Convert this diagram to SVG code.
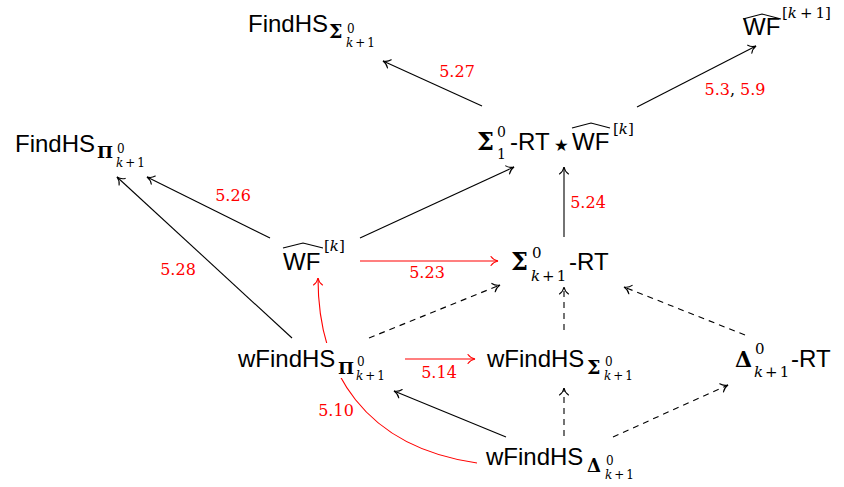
<svg xmlns="http://www.w3.org/2000/svg" width="844" height="487" viewBox="0 0 844 487">
<defs>
<marker id="ah" markerUnits="userSpaceOnUse" markerWidth="12" markerHeight="12" viewBox="-9 -6 12 12" refX="0" refY="0" orient="auto">
<path d="M-7,-4.5 C-5,-1.5 -2,-0.4 0,0 C-2,0.4 -5,1.5 -7,4.5" fill="none" stroke="#000" stroke-width="1.1" stroke-linecap="round"/>
</marker>
<marker id="ahr" markerUnits="userSpaceOnUse" markerWidth="12" markerHeight="12" viewBox="-9 -6 12 12" refX="0" refY="0" orient="auto">
<path d="M-7,-4.5 C-5,-1.5 -2,-0.4 0,0 C-2,0.4 -5,1.5 -7,4.5" fill="none" stroke="#f00" stroke-width="1.1" stroke-linecap="round"/>
</marker>
</defs>
<style>
.e{fill:none;stroke:#000;stroke-width:1.1;marker-end:url(#ah)}
.d{stroke-dasharray:6 5}
.r{fill:none;stroke:#f00;stroke-width:1.1;marker-end:url(#ahr)}
.lb{font-family:"DejaVu Serif",serif;font-size:16px;fill:#f00;text-anchor:middle}
.t{font-family:"Liberation Sans",sans-serif;font-size:24px;fill:#000}
.g{font-family:"DejaVu Serif",serif;font-weight:bold;fill:#000}
.m{font-family:"DejaVu Serif",serif;fill:#000}
.i{font-style:italic}
.hat{fill:none;stroke:#000;stroke-width:1.2}
</style>
<rect width="844" height="487" fill="#fff"/>
<g id="connectors">
<path class="e" d="M482,106 L383,61"/>
<path class="e" d="M637,107 L756,46"/>
<path class="e" d="M270,238 L147,177"/>
<path class="e" d="M292,338 L117,177"/>
<path class="e" d="M360,238 L514,167"/>
<path class="e" d="M564,237 L564,167"/>
<path class="r" d="M360,261 L498,261"/>
<path class="e d" d="M369,338 L500,285"/>
<path class="e d" d="M564,330 L564,287"/>
<path class="e d" d="M745,335 L624,287"/>
<path class="r" d="M405,359 L475,359"/>
<path class="e" d="M506,437 L394,391"/>
<path class="e d" d="M564,436 L564,388"/>
<path class="e d" d="M613,437 L728,385"/>
<path class="r" d="M477,463 C365,447 318,372 318,278"/>
<text class="lb" x="457" y="77">5.27</text>
<text class="lb" x="735" y="95"><tspan>5.3</tspan><tspan fill="#000">, </tspan><tspan>5.9</tspan></text>
<text class="lb" x="233" y="201">5.26</text>
<text class="lb" x="178" y="275">5.28</text>
<text class="lb" x="588" y="208">5.24</text>
<text class="lb" x="427" y="278">5.23</text>
<text class="lb" x="439" y="378">5.14</text>
<text class="lb" x="336" y="416">5.10</text>
</g>
<g id="findhs-sigma">
<text class="t" x="248" y="32">FindHS</text>
<text class="g" x="329" y="38" font-size="19">Σ</text>
<text class="m" x="347" y="33" font-size="12">0</text>
<text class="m" x="346" y="47" font-size="12"><tspan class="i">k</tspan><tspan dx="2">+</tspan><tspan dx="2">1</tspan></text>
</g>
<g id="wf-k1">
<text class="t" x="743" y="35">WF</text>
<path class="hat" d="M743,19 L762,14 L781,19"/>
<text class="m" x="782" y="18" font-size="15">[<tspan class="i">k</tspan><tspan dx="3">+</tspan><tspan dx="3">1</tspan>]</text>
</g>
<g id="findhs-pi">
<text class="t" x="15" y="152">FindHS</text>
<text class="g" x="97" y="158" font-size="17">Π</text>
<text class="m" x="117" y="153" font-size="12">0</text>
<text class="m" x="116" y="167" font-size="12"><tspan class="i">k</tspan><tspan dx="2">+</tspan><tspan dx="2">1</tspan></text>
</g>
<g id="sigma1-rt-star-wf">
<text class="g" x="477" y="150" font-size="24">Σ</text>
<text class="m" x="497" y="137" font-size="14">0</text>
<text class="m" x="497" y="159" font-size="14">1</text>
<text class="t" x="510" y="150">-RT</text>
<text x="551" y="156" font-family="DejaVu Sans,sans-serif" font-size="33">⋆</text>
<text class="t" x="572" y="150">WF</text>
<path class="hat" d="M572,128 L591,123 L610,128"/>
<text class="m" x="613" y="134" font-size="15">[<tspan class="i">k</tspan>]</text>
</g>
<g id="wf-k">
<text class="t" x="283" y="270">WF</text>
<path class="hat" d="M283,248 L303,243 L323,248"/>
<text class="m" x="324" y="251" font-size="15">[<tspan class="i">k</tspan>]</text>
</g>
<g id="sigma-k1-rt">
<text class="g" x="511" y="270" font-size="24">Σ</text>
<text class="m" x="532" y="258" font-size="15">0</text>
<text class="m" x="531" y="281" font-size="15"><tspan class="i">k</tspan><tspan dx="2">+</tspan><tspan dx="2">1</tspan></text>
<text class="t" x="569" y="270">-RT</text>
</g>
<g id="wfindhs-pi">
<rect x="236" y="343" width="156" height="35" fill="#fff"/>
<text class="t" x="238" y="367">wFindHS</text>
<text class="g" x="338" y="374" font-size="17">Π</text>
<text class="m" x="357" y="366" font-size="12">0</text>
<text class="m" x="356" y="380" font-size="12"><tspan class="i">k</tspan><tspan dx="2">+</tspan><tspan dx="2">1</tspan></text>
</g>
<g id="wfindhs-sigma">
<text class="t" x="487" y="367">wFindHS</text>
<text class="g" x="587" y="374" font-size="19">Σ</text>
<text class="m" x="605" y="366" font-size="12">0</text>
<text class="m" x="604" y="380" font-size="12"><tspan class="i">k</tspan><tspan dx="2">+</tspan><tspan dx="2">1</tspan></text>
</g>
<g id="wfindhs-delta">
<text class="t" x="486" y="465">wFindHS</text>
<text class="g" x="587" y="472" font-size="18">Δ</text>
<text class="m" x="606" y="465" font-size="12">0</text>
<text class="m" x="605" y="479" font-size="12"><tspan class="i">k</tspan><tspan dx="2">+</tspan><tspan dx="2">1</tspan></text>
</g>
<g id="delta-k1-rt">
<text class="g" x="735" y="367" font-size="22">Δ</text>
<text class="m" x="755" y="354" font-size="15">0</text>
<text class="m" x="754" y="377" font-size="15"><tspan class="i">k</tspan><tspan dx="2">+</tspan><tspan dx="2">1</tspan></text>
<text class="t" x="791" y="367">-RT</text>
</g>
</svg>
